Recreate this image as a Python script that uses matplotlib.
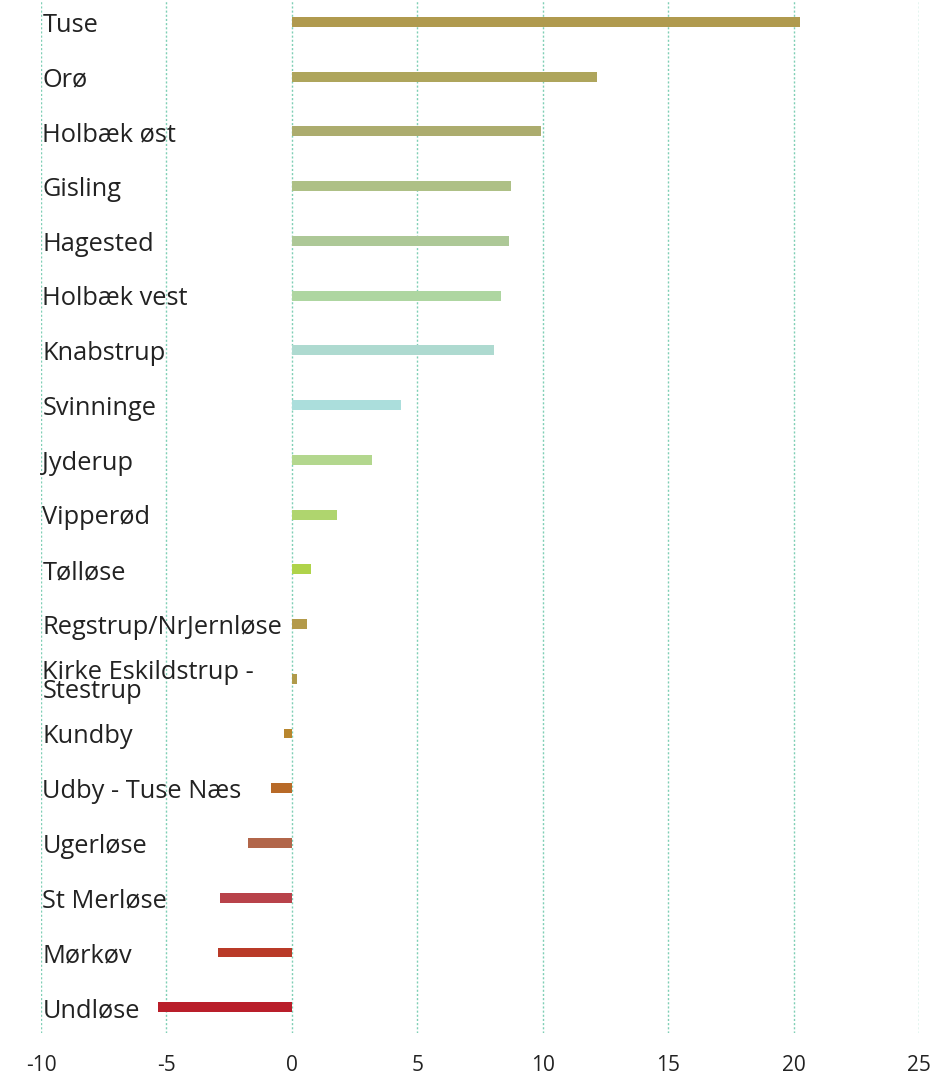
import matplotlib
matplotlib.use("Agg")
import matplotlib.pyplot as plt

categories = ["Tuse", "Orø", "Holbæk øst", "Gisling", "Hagested", "Holbæk vest",
              "Knabstrup", "Svinninge", "Jyderup", "Vipperød", "Tølløse",
              "Regstrup/NrJernløse", "Kirke Eskildstrup -\nStestrup", "Kundby",
              "Udby - Tuse Næs", "Ugerløse", "St Merløse", "Mørkøv", "Undløse"]
values = [20.24, 12.16, 9.93, 8.73, 8.66, 8.35, 8.04, 4.37, 3.21, 1.80, 0.77,
          0.62, 0.22, -0.31, -0.82, -1.73, -2.85, -2.93, -5.32]
colors = ["#B09A4E", "#AEA55C", "#ACAC6E", "#AEC086", "#ADC897", "#AED6A1",
          "#AEDAD0", "#ABDEDC", "#B3D78E", "#AFD56E", "#AFD34A", "#B39A4A",
          "#B09A4A", "#B8862E", "#B86A28", "#B2664A", "#B8424A", "#B93A28",
          "#B91E2A"]
xticks = [-10, -5, 0, 5, 10, 15, 20, 25]

plt.rcParams['font.family'] = ['Open Sans', 'DejaVu Sans']

fig = plt.figure(figsize=(9.44, 10.74), dpi=100)
ax = fig.add_axes([41/944, 41/1074, (919-41)/944, (1074-41)/1074])

n = len(categories)
ypos = [n - 1 - i for i in range(n)]
ax.barh(ypos, values, height=0.18, color=colors, zorder=3)

for y, lab in zip(ypos, categories):
    ax.text(-9.95, y - 0.06, lab, ha='left', va='center', fontsize=18.3,
            color='#222222', linespacing=0.72, zorder=4)

ax.set_xlim(-10, 25)
ax.set_ylim(-0.47, n - 1 + 0.40)
ax.set_xticks(xticks)
ax.set_xticklabels([str(t) for t in xticks], fontsize=15, color='#222222')
ax.set_yticks([])
ax.tick_params(axis='x', length=0, pad=15.5)
for s in ax.spines.values():
    s.set_visible(False)
ax.grid(axis='x', color='#7FCFB5', linestyle=(0, (1.5, 1.5)), linewidth=1, zorder=0)
ax.set_axisbelow(True)

fig.savefig("out.png", dpi=100)
